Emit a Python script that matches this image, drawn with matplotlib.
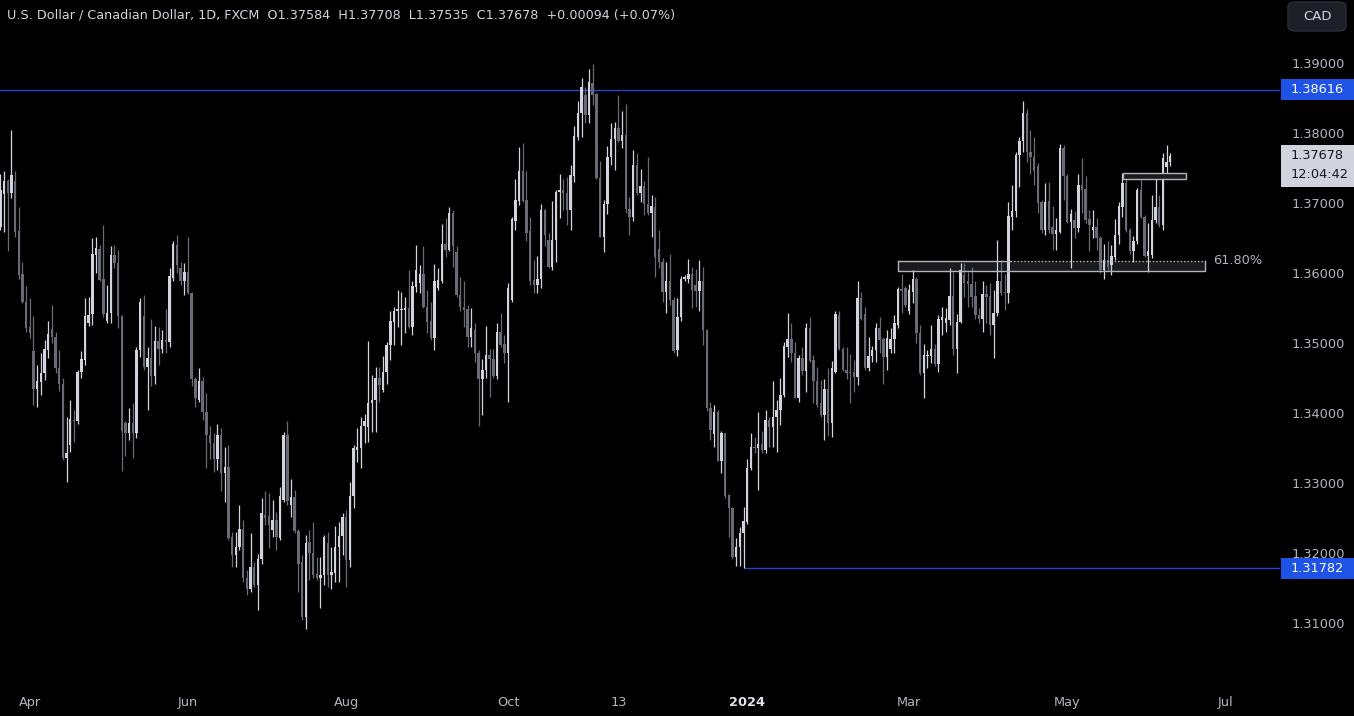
import matplotlib
matplotlib.use("Agg")
import matplotlib.pyplot as plt
from matplotlib.patches import Rectangle, FancyBboxPatch
import numpy as np
import pandas as pd

# USD/CAD daily candles
opens = [
    1.3666, 1.3713, 1.3732, 1.3715, 1.3731, 1.3660, 1.3598, 1.3559, 1.3523, 1.3489,
    1.3435, 1.3444, 1.3457, 1.3490, 1.3520, 1.3508, 1.3464, 1.3442, 1.3336, 1.3355,
    1.3390, 1.3388, 1.3459, 1.3476, 1.3528, 1.3541, 1.3626, 1.3635, 1.3591, 1.3531,
    1.3543, 1.3626, 1.3614, 1.3539, 1.3385, 1.3372, 1.3385, 1.3371, 1.3490, 1.3538,
    1.3466, 1.3478, 1.3453, 1.3503, 1.3492, 1.3504, 1.3502, 1.3593, 1.3640, 1.3607,
    1.3588, 1.3602, 1.3571, 1.3449, 1.3419, 1.3445, 1.3402, 1.3369, 1.3357, 1.3335,
    1.3369, 1.3314, 1.3323, 1.3223, 1.3197, 1.3209, 1.3234, 1.3164, 1.3149, 1.3180,
    1.3154, 1.3192, 1.3254, 1.3253, 1.3233, 1.3247, 1.3221, 1.3276, 1.3369, 1.3268,
    1.3280, 1.3231, 1.3187, 1.3109, 1.3216, 1.3200, 1.3170, 1.3164, 1.3169, 1.3214,
    1.3169, 1.3171, 1.3209, 1.3224, 1.3252, 1.3190, 1.3281, 1.3347, 1.3350, 1.3381,
    1.3380, 1.3414, 1.3419, 1.3450, 1.3433, 1.3459, 1.3497, 1.3530, 1.3545, 1.3547,
    1.3547, 1.3550, 1.3523, 1.3580, 1.3585, 1.3599, 1.3551, 1.3531, 1.3507, 1.3578,
    1.3588, 1.3642, 1.3633, 1.3685, 1.3630, 1.3569, 1.3552, 1.3548, 1.3508, 1.3519,
    1.3486, 1.3448, 1.3461, 1.3483, 1.3477, 1.3453, 1.3516, 1.3498, 1.3486, 1.3561,
    1.3675, 1.3703, 1.3745, 1.3704, 1.3660, 1.3590, 1.3583, 1.3591, 1.3690, 1.3647,
    1.3609, 1.3647, 1.3716, 1.3719, 1.3714, 1.3690, 1.3739, 1.3795, 1.3829, 1.3854,
    1.3825, 1.3872, 1.3855, 1.3736, 1.3652, 1.3699, 1.3766, 1.3792, 1.3807, 1.3789,
    1.3797, 1.3692, 1.3680, 1.3754, 1.3714, 1.3724, 1.3699, 1.3685, 1.3694, 1.3634,
    1.3616, 1.3573, 1.3589, 1.3562, 1.3490, 1.3537, 1.3592, 1.3591, 1.3599, 1.3583,
    1.3575, 1.3589, 1.3519, 1.3407, 1.3370, 1.3401, 1.3332, 1.3371, 1.3283, 1.3264,
    1.3195, 1.3208, 1.3229, 1.3244, 1.3321, 1.3352, 1.3350, 1.3356, 1.3347, 1.3390,
    1.3380, 1.3394, 1.3404, 1.3426, 1.3494, 1.3505, 1.3486, 1.3422, 1.3479, 1.3460,
    1.3522, 1.3475, 1.3445, 1.3414, 1.3397, 1.3434, 1.3386, 1.3459, 1.3540, 1.3492,
    1.3462, 1.3459, 1.3459, 1.3451, 1.3564, 1.3541, 1.3464, 1.3481, 1.3490, 1.3522,
    1.3506, 1.3480, 1.3492, 1.3505, 1.3526, 1.3577, 1.3578, 1.3545, 1.3573, 1.3592,
    1.3515, 1.3457, 1.3481, 1.3481, 1.3491, 1.3470, 1.3533, 1.3529, 1.3533, 1.3567,
    1.3492, 1.3530, 1.3597, 1.3588, 1.3584, 1.3567, 1.3540, 1.3534, 1.3570, 1.3567,
    1.3526, 1.3543, 1.3588, 1.3573, 1.3571, 1.3680, 1.3688, 1.3768, 1.3788, 1.3828,
    1.3773, 1.3766, 1.3753, 1.3701, 1.3662, 1.3703, 1.3666, 1.3656, 1.3659, 1.3778,
    1.3739, 1.3673, 1.3675, 1.3664, 1.3726, 1.3720, 1.3677, 1.3662, 1.3665, 1.3650,
    1.3604, 1.3618, 1.3611, 1.3623, 1.3654, 1.3694, 1.3728, 1.3662, 1.3631, 1.3645,
    1.3719, 1.3680, 1.3624, 1.3626, 1.3676, 1.3694, 1.3669, 1.3752, 1.37584,
]
highs = [
    1.3742, 1.3745, 1.3735, 1.3804, 1.3745, 1.3695, 1.3616, 1.3581, 1.3564, 1.3538,
    1.3469, 1.3485, 1.3504, 1.3531, 1.3554, 1.3516, 1.3490, 1.3450, 1.3395, 1.3419,
    1.3405, 1.3462, 1.3489, 1.3564, 1.3566, 1.3650, 1.3652, 1.3640, 1.3669, 1.3583,
    1.3638, 1.3640, 1.3633, 1.3540, 1.3388, 1.3407, 1.3414, 1.3495, 1.3564, 1.3569,
    1.3495, 1.3535, 1.3524, 1.3523, 1.3519, 1.3549, 1.3607, 1.3645, 1.3654, 1.3616,
    1.3614, 1.3652, 1.3573, 1.3452, 1.3464, 1.3452, 1.3428, 1.3381, 1.3371, 1.3385,
    1.3378, 1.3352, 1.3355, 1.3230, 1.3230, 1.3269, 1.3247, 1.3176, 1.3228, 1.3187,
    1.3199, 1.3278, 1.3288, 1.3286, 1.3276, 1.3259, 1.3295, 1.3373, 1.3388, 1.3306,
    1.3290, 1.3235, 1.3197, 1.3226, 1.3233, 1.3245, 1.3195, 1.3195, 1.3226, 1.3230,
    1.3209, 1.3238, 1.3245, 1.3257, 1.3261, 1.3302, 1.3354, 1.3378, 1.3395, 1.3399,
    1.3503, 1.3454, 1.3466, 1.3466, 1.3481, 1.3502, 1.3546, 1.3552, 1.3576, 1.3573,
    1.3566, 1.3604, 1.3588, 1.3640, 1.3611, 1.3638, 1.3576, 1.3559, 1.3613, 1.3607,
    1.3670, 1.3678, 1.3695, 1.3690, 1.3638, 1.3595, 1.3588, 1.3554, 1.3550, 1.3528,
    1.3490, 1.3477, 1.3524, 1.3492, 1.3492, 1.3529, 1.3543, 1.3511, 1.3585, 1.3680,
    1.3735, 1.3780, 1.3785, 1.3745, 1.3680, 1.3619, 1.3624, 1.3699, 1.3692, 1.3657,
    1.3703, 1.3719, 1.3741, 1.3735, 1.3737, 1.3754, 1.3810, 1.3845, 1.3879, 1.3866,
    1.3891, 1.3898, 1.3857, 1.3760, 1.3704, 1.3782, 1.3814, 1.3816, 1.3854, 1.3831,
    1.3842, 1.3709, 1.3776, 1.3771, 1.3749, 1.3731, 1.3766, 1.3711, 1.3709, 1.3662,
    1.3621, 1.3616, 1.3627, 1.3565, 1.3564, 1.3596, 1.3597, 1.3620, 1.3609, 1.3605,
    1.3619, 1.3608, 1.3520, 1.3416, 1.3412, 1.3404, 1.3374, 1.3372, 1.3285, 1.3266,
    1.3221, 1.3237, 1.3266, 1.3334, 1.3372, 1.3366, 1.3401, 1.3375, 1.3404, 1.3395,
    1.3445, 1.3419, 1.3450, 1.3502, 1.3543, 1.3529, 1.3502, 1.3483, 1.3494, 1.3528,
    1.3537, 1.3483, 1.3466, 1.3447, 1.3449, 1.3464, 1.3475, 1.3545, 1.3545, 1.3494,
    1.3494, 1.3484, 1.3476, 1.3588, 1.3573, 1.3551, 1.3508, 1.3496, 1.3529, 1.3537,
    1.3509, 1.3519, 1.3521, 1.3540, 1.3580, 1.3599, 1.3581, 1.3584, 1.3604, 1.3595,
    1.3526, 1.3499, 1.3490, 1.3526, 1.3499, 1.3540, 1.3552, 1.3550, 1.3607, 1.3602,
    1.3541, 1.3615, 1.3615, 1.3602, 1.3608, 1.3588, 1.3550, 1.3588, 1.3583, 1.3586,
    1.3576, 1.3647, 1.3619, 1.3599, 1.3702, 1.3726, 1.3773, 1.3795, 1.3845, 1.3835,
    1.3804, 1.3795, 1.3757, 1.3704, 1.3728, 1.3730, 1.3696, 1.3678, 1.3784, 1.3783,
    1.3742, 1.3691, 1.3688, 1.3741, 1.3764, 1.3739, 1.3690, 1.3690, 1.3678, 1.3653,
    1.3641, 1.3645, 1.3640, 1.3677, 1.3702, 1.3743, 1.3738, 1.3664, 1.3653, 1.3722,
    1.3733, 1.3683, 1.3671, 1.3711, 1.3742, 1.3711, 1.3772, 1.3783, 1.37708,
]
lows = [
    1.3662, 1.3659, 1.3631, 1.3707, 1.3652, 1.3592, 1.3557, 1.3516, 1.3507, 1.3412,
    1.3409, 1.3426, 1.3447, 1.3478, 1.3500, 1.3457, 1.3431, 1.3333, 1.3302, 1.3345,
    1.3359, 1.3385, 1.3450, 1.3469, 1.3524, 1.3526, 1.3600, 1.3589, 1.3537, 1.3528,
    1.3528, 1.3607, 1.3521, 1.3317, 1.3338, 1.3362, 1.3336, 1.3364, 1.3480, 1.3461,
    1.3404, 1.3438, 1.3442, 1.3469, 1.3485, 1.3485, 1.3495, 1.3588, 1.3600, 1.3583,
    1.3569, 1.3570, 1.3438, 1.3409, 1.3416, 1.3390, 1.3321, 1.3335, 1.3316, 1.3319,
    1.3288, 1.3273, 1.3219, 1.3180, 1.3180, 1.3204, 1.3159, 1.3140, 1.3145, 1.3152,
    1.3119, 1.3185, 1.3240, 1.3207, 1.3223, 1.3204, 1.3219, 1.3273, 1.3269, 1.3252,
    1.3228, 1.3145, 1.3104, 1.3092, 1.3161, 1.3164, 1.3161, 1.3121, 1.3154, 1.3152,
    1.3148, 1.3159, 1.3159, 1.3197, 1.3152, 1.3180, 1.3264, 1.3330, 1.3321, 1.3357,
    1.3359, 1.3373, 1.3373, 1.3416, 1.3430, 1.3442, 1.3476, 1.3497, 1.3523, 1.3497,
    1.3514, 1.3521, 1.3511, 1.3573, 1.3571, 1.3550, 1.3514, 1.3504, 1.3490, 1.3576,
    1.3585, 1.3623, 1.3631, 1.3609, 1.3566, 1.3545, 1.3523, 1.3495, 1.3495, 1.3473,
    1.3381, 1.3397, 1.3450, 1.3423, 1.3450, 1.3448, 1.3495, 1.3472, 1.3416, 1.3558,
    1.3662, 1.3697, 1.3702, 1.3645, 1.3583, 1.3571, 1.3571, 1.3579, 1.3638, 1.3607,
    1.3604, 1.3616, 1.3678, 1.3690, 1.3669, 1.3661, 1.3730, 1.3790, 1.3795, 1.3814,
    1.3814, 1.3840, 1.3735, 1.3651, 1.3630, 1.3684, 1.3754, 1.3747, 1.3787, 1.3778,
    1.3685, 1.3654, 1.3675, 1.3711, 1.3702, 1.3683, 1.3683, 1.3652, 1.3594, 1.3607,
    1.3559, 1.3543, 1.3554, 1.3485, 1.3481, 1.3531, 1.3588, 1.3585, 1.3550, 1.3551,
    1.3546, 1.3497, 1.3403, 1.3361, 1.3352, 1.3331, 1.3314, 1.3278, 1.3223, 1.3192,
    1.3181, 1.3182, 1.31782, 1.3242, 1.3318, 1.3343, 1.3290, 1.3343, 1.3343, 1.3352,
    1.3352, 1.3345, 1.3383, 1.3423, 1.3480, 1.3473, 1.3421, 1.3416, 1.3454, 1.3430,
    1.3473, 1.3414, 1.3409, 1.3395, 1.3361, 1.3367, 1.3366, 1.3457, 1.3490, 1.3460,
    1.3448, 1.3414, 1.3430, 1.3440, 1.3533, 1.3462, 1.3460, 1.3473, 1.3473, 1.3485,
    1.3442, 1.3461, 1.3485, 1.3485, 1.3522, 1.3543, 1.3552, 1.3542, 1.3557, 1.3500,
    1.3454, 1.3421, 1.3464, 1.3471, 1.3467, 1.3459, 1.3511, 1.3516, 1.3526, 1.3483,
    1.3457, 1.3528, 1.3566, 1.3552, 1.3552, 1.3535, 1.3528, 1.3516, 1.3528, 1.3511,
    1.3478, 1.3538, 1.3569, 1.3547, 1.3557, 1.3661, 1.3680, 1.3723, 1.3773, 1.3759,
    1.3742, 1.3726, 1.3685, 1.3657, 1.3654, 1.3657, 1.3633, 1.3633, 1.3657, 1.3704,
    1.3671, 1.3607, 1.3650, 1.3659, 1.3685, 1.3672, 1.3631, 1.3650, 1.3633, 1.3600,
    1.3591, 1.3604, 1.3597, 1.3618, 1.3642, 1.3680, 1.3659, 1.3627, 1.3616, 1.3642,
    1.3678, 1.3623, 1.3602, 1.3621, 1.3671, 1.3666, 1.3662, 1.3738, 1.37535,
]
closes = [
    1.3719, 1.3732, 1.3714, 1.3740, 1.3659, 1.3597, 1.3558, 1.3521, 1.3515, 1.3435,
    1.3445, 1.3457, 1.3491, 1.3513, 1.3509, 1.3464, 1.3442, 1.3336, 1.3343, 1.3391,
    1.3388, 1.3459, 1.3477, 1.3538, 1.3540, 1.3627, 1.3635, 1.3590, 1.3542, 1.3543,
    1.3626, 1.3614, 1.3538, 1.3374, 1.3372, 1.3385, 1.3371, 1.3490, 1.3558, 1.3466,
    1.3478, 1.3453, 1.3503, 1.3492, 1.3504, 1.3502, 1.3595, 1.3641, 1.3611, 1.3588,
    1.3602, 1.3571, 1.3449, 1.3421, 1.3445, 1.3402, 1.3369, 1.3357, 1.3335, 1.3369,
    1.3314, 1.3323, 1.3221, 1.3197, 1.3209, 1.3234, 1.3164, 1.3149, 1.3180, 1.3154,
    1.3192, 1.3257, 1.3250, 1.3240, 1.3247, 1.3223, 1.3281, 1.3369, 1.3275, 1.3280,
    1.3231, 1.3185, 1.3109, 1.3214, 1.3200, 1.3169, 1.3164, 1.3169, 1.3223, 1.3169,
    1.3173, 1.3209, 1.3224, 1.3252, 1.3190, 1.3281, 1.3350, 1.3352, 1.3381, 1.3388,
    1.3414, 1.3419, 1.3450, 1.3440, 1.3459, 1.3497, 1.3532, 1.3545, 1.3549, 1.3549,
    1.3550, 1.3523, 1.3582, 1.3604, 1.3599, 1.3551, 1.3530, 1.3507, 1.3588, 1.3590,
    1.3642, 1.3633, 1.3685, 1.3638, 1.3569, 1.3552, 1.3547, 1.3509, 1.3521, 1.3486,
    1.3448, 1.3461, 1.3483, 1.3477, 1.3453, 1.3516, 1.3497, 1.3486, 1.3578, 1.3677,
    1.3704, 1.3745, 1.3703, 1.3657, 1.3589, 1.3583, 1.3591, 1.3690, 1.3654, 1.3609,
    1.3647, 1.3716, 1.3719, 1.3714, 1.3690, 1.3740, 1.3796, 1.3829, 1.3866, 1.3825,
    1.3873, 1.3855, 1.3736, 1.3652, 1.3699, 1.3766, 1.3792, 1.3807, 1.3789, 1.3797,
    1.3692, 1.3680, 1.3754, 1.3714, 1.3724, 1.3699, 1.3685, 1.3695, 1.3623, 1.3616,
    1.3573, 1.3589, 1.3561, 1.3488, 1.3537, 1.3592, 1.3594, 1.3599, 1.3576, 1.3575,
    1.3589, 1.3519, 1.3407, 1.3376, 1.3401, 1.3332, 1.3371, 1.3281, 1.3264, 1.3195,
    1.3209, 1.3229, 1.3245, 1.3321, 1.3352, 1.3350, 1.3356, 1.3347, 1.3390, 1.3380,
    1.3394, 1.3404, 1.3426, 1.3495, 1.3505, 1.3485, 1.3422, 1.3479, 1.3460, 1.3522,
    1.3475, 1.3445, 1.3411, 1.3397, 1.3434, 1.3386, 1.3464, 1.3541, 1.3492, 1.3462,
    1.3457, 1.3457, 1.3451, 1.3564, 1.3534, 1.3464, 1.3481, 1.3490, 1.3522, 1.3504,
    1.3480, 1.3507, 1.3505, 1.3529, 1.3577, 1.3575, 1.3554, 1.3575, 1.3592, 1.3514,
    1.3457, 1.3483, 1.3483, 1.3491, 1.3470, 1.3534, 1.3537, 1.3535, 1.3567, 1.3492,
    1.3530, 1.3604, 1.3585, 1.3584, 1.3566, 1.3540, 1.3535, 1.3570, 1.3566, 1.3526,
    1.3543, 1.3588, 1.3571, 1.3571, 1.3681, 1.3688, 1.3769, 1.3788, 1.3828, 1.3773,
    1.3766, 1.3745, 1.3700, 1.3661, 1.3702, 1.3662, 1.3656, 1.3662, 1.3778, 1.3738,
    1.3673, 1.3684, 1.3664, 1.3726, 1.3719, 1.3676, 1.3669, 1.3666, 1.3650, 1.3604,
    1.3619, 1.3609, 1.3624, 1.3654, 1.3695, 1.3728, 1.3662, 1.3631, 1.3645, 1.3719,
    1.3680, 1.3624, 1.3632, 1.3676, 1.3694, 1.3669, 1.3764, 1.3759, 1.37678,
]

first_day = "2023-03-22"
month_marks = ["2023-04-01", "2023-06-01", "2023-08-01", "2023-10-01", "2023-11-13",
               "2024-01-01", "2024-03-01", "2024-05-01", "2024-07-01"]
month_labels = ["Apr", "Jun", "Aug", "Oct", "13", "2024", "Mar", "May", "Jul"]
price_ticks = [1.31, 1.32, 1.33, 1.34, 1.35, 1.36, 1.37, 1.38, 1.39]

resistance = 1.38616
support = 1.31782
support_start = 202
zone_lo, zone_hi = 1.3603, 1.3617
zone_x0, zone_x1, zone_solid_end = 244.0, 327.4, 274.5
box_lo, box_hi = 1.37339, 1.37433
box_x0, box_x1 = 305.2, 322.3

header = ("U.S. Dollar / Canadian Dollar, 1D, FXCM  O1.37584  H1.37708  "
          "L1.37535  C1.37678  +0.00094 (+0.07%)")

o = np.array(opens)
h = np.array(highs)
l = np.array(lows)
c = np.array(closes)
n = len(c)
x = np.arange(n)

up_col = "#d1d4dc"
dn_col = "#686b75"
cols = np.where(c >= o, up_col, dn_col)

W, H = 1354, 716
fig = plt.figure(figsize=(W / 100, H / 100), dpi=100, facecolor="black")
ax = fig.add_axes([0, 1 - 686 / H, 1280 / W, 686 / H])
ax.set_facecolor("black")

ax.vlines(x, l, h, colors=cols, linewidth=0.9, zorder=3)
body = np.maximum(np.abs(c - o), 0.00003)
ax.bar(x, body, bottom=np.minimum(o, c), width=0.66, color=cols,
       linewidth=0, zorder=4)

ax.set_xlim(-0.1, 1280 / 3.68)
ax.set_ylim(1.39 - 623 / 7000, 1.39 + 63 / 7000)

# horizontal levels
line_col = "#3040d0"
ax.axhline(resistance, color=line_col, linewidth=1, zorder=2)
ax.hlines(support, support_start, 400, color=line_col, linewidth=1, zorder=2)

# 61.8% zone
edge = "#b2b5be"
ax.add_patch(Rectangle((zone_x0, zone_lo), zone_x1 - zone_x0, zone_hi - zone_lo,
                       facecolor="#1b1b1e", edgecolor="none", zorder=1))
ax.plot([zone_x0, zone_x0, zone_x1, zone_x1], [zone_hi, zone_lo, zone_lo, zone_hi],
        color=edge, linewidth=1, zorder=5)
ax.plot([zone_x0, zone_solid_end], [zone_hi, zone_hi], color=edge, linewidth=1, zorder=5)
ax.plot([zone_solid_end, zone_x1], [zone_hi, zone_hi], color=edge, linewidth=1,
        linestyle=(0, (1, 1.5)), zorder=5)
ax.text(zone_x1 + 2.2, zone_hi + 0.0001, "61.80%", color=edge, fontsize=9.3,
        va="center", ha="left")

# small breakout box
ax.add_patch(Rectangle((box_x0, box_lo), box_x1 - box_x0, box_hi - box_lo,
                       facecolor="#1b1b1e", edgecolor=edge, linewidth=1, zorder=5))

for s in ax.spines.values():
    s.set_visible(False)

dates = pd.bdate_range(first_day, periods=360)
tick_pos = np.searchsorted(dates.values, pd.to_datetime(month_marks).values)
ax.set_xticks(tick_pos)
ax.set_xticklabels(month_labels)
for lab in ax.get_xticklabels():
    lab.set_color("#b2b5be")
    lab.set_fontsize(9.3)
    if lab.get_text() == "2024":
        lab.set_fontweight("bold")
        lab.set_color("#e0e3eb")
ax.tick_params(axis="x", length=0, pad=7)

ax.yaxis.tick_right()
ax.set_yticks(price_ticks)
ax.set_yticklabels([f"{p:.5f}" for p in price_ticks])
ax.tick_params(axis="y", length=0, pad=8, labelsize=9.3, labelcolor="#b2b5be")

# price labels on the axis
ytr = ax.get_yaxis_transform()
bw = 74 / 1280
for val, txt in [(resistance, "1.38616"), (support, "1.31782")]:
    ax.add_patch(Rectangle((1.0008, val - 0.0015), bw, 0.003, transform=ytr,
                           facecolor="#1e53e5", edgecolor="none", clip_on=False, zorder=10))
    ax.text(1.0085, val, txt, transform=ytr, color="white", fontsize=9.3,
            va="center", ha="left", zorder=11, clip_on=False)

last = closes[-1]
ax.add_patch(Rectangle((1.0008, last - 31 / 7000), bw, 42 / 7000, transform=ytr,
                       facecolor="#d1d4dc", edgecolor="none", clip_on=False, zorder=10))
ax.text(1.0085, last, f"{last:.5f}", transform=ytr, color="#131722",
        fontsize=9.3, va="center", ha="left", zorder=11, clip_on=False)
ax.text(1.0085, last - 18.5 / 7000, "12:04:42", transform=ytr, color="#131722",
        fontsize=9.3, va="center", ha="left", zorder=11, clip_on=False)

# header and currency button
fig.text(7 / W, 1 - 15 / H, header, color="#d1d4dc", fontsize=9.2,
         va="center", ha="left")
fig.patches.append(FancyBboxPatch((1288 / W, 1 - 31 / H), 58 / W, 29 / H,
                                  boxstyle="round,pad=0,rounding_size=0.006",
                                  transform=fig.transFigure, facecolor="#1e2028",
                                  edgecolor="#2a2e39", linewidth=1))
fig.text(1317 / W, 1 - 16 / H, "CAD", color="#d1d4dc", fontsize=9.5,
         va="center", ha="center")

fig.savefig("out.png", dpi=100, facecolor="black")
